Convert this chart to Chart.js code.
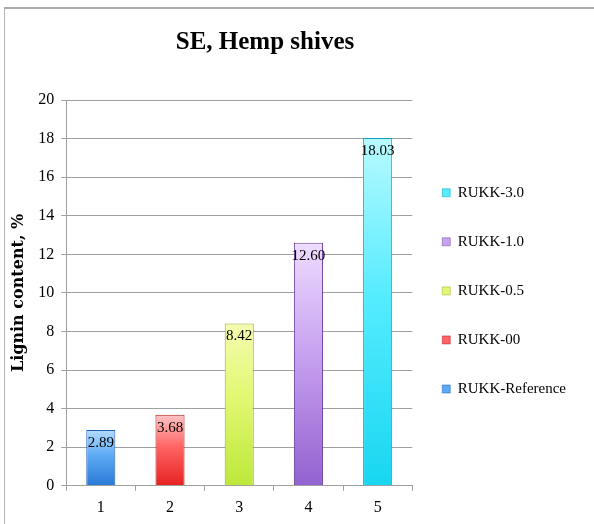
<!DOCTYPE html>
<html>
<head>
<meta charset="utf-8">
<script src="https://cdn.jsdelivr.net/npm/chart.js@4"></script>
<style>
  html, body { margin: 0; background: #fff; overflow: hidden; }
  #box {
    position: absolute;
    left: 4px;
    top: 7px;
    border-top: 2px solid #ababab;
    border-left: 1px solid #b4b4b4;
  }
</style>
</head>
<body>
<div id="box"><canvas id="ligninChart" width="589" height="515"></canvas></div>
<script>
const categories = ['1', '2', '3', '4', '5'];
const seriesNames = ['RUKK-Reference', 'RUKK-00', 'RUKK-0.5', 'RUKK-1.0', 'RUKK-3.0'];
const ligninValues = [2.89, 3.68, 8.42, 12.6, 18.03];
const yMin = 0;
const yMax = 20;
const yStep = 2;

// bar shading: top, middle, bottom, edge
const barTop = ['#b4dcff', '#ffc4c4', '#f6fbb0', '#eedcff', '#b8faff'];
const barMid = ['#5eaaf6', '#ff6464', '#e2f872', '#c8a2f0', '#56ecff'];
const barBottom = ['#2a7ad6', '#e62222', '#bde83a', '#9262d0', '#18d6f0'];
const barEdge = ['#1d5fb0', '#b01a1a', '#8fae22', '#6a40a0', '#0e9fc0'];

const font = '"Liberation Serif", serif';

function barGradient(ctx, i) {
  const chart = ctx.chart;
  const y = chart.scales ? chart.scales.y : null;
  if (!chart.chartArea || !y) return barMid[i];
  const top = y.getPixelForValue(ligninValues[i]);
  const bottom = y.getPixelForValue(0);
  if (!isFinite(top) || !isFinite(bottom)) return barMid[i];
  const g = chart.ctx.createLinearGradient(0, top, 0, bottom);
  g.addColorStop(0, barTop[i]);
  g.addColorStop(0.45, barMid[i]);
  g.addColorStop(1, barBottom[i]);
  return g;
}

// value printed inside the top of each bar
const valueLabels = {
  id: 'valueLabels',
  afterDatasetsDraw(chart) {
    const c = chart.ctx;
    c.save();
    c.font = '15px ' + font;
    c.fillStyle = '#000';
    c.textAlign = 'center';
    c.textBaseline = 'middle';
    chart.data.datasets.forEach((ds, i) => {
      chart.getDatasetMeta(i).data.forEach((bar, j) => {
        if (ds.data[j] == null) return;
        c.fillText(ds.data[j].toFixed(2), bar.x, bar.y + 13);
      });
    });
    c.restore();
  },
};

// title sits left of the canvas centre, as in the original
const chartTitle = {
  id: 'chartTitle',
  afterDraw(chart) {
    const c = chart.ctx;
    c.save();
    c.font = 'bold 25px ' + font;
    c.fillStyle = '#000';
    c.textAlign = 'center';
    c.textBaseline = 'alphabetic';
    c.fillText('SE, Hemp shives', 260, 40);
    c.restore();
  },
};

const datasets = seriesNames.map((name, i) => ({
  label: name,
  data: categories.map((c, j) => (j === i ? ligninValues[i] : null)),
  backgroundColor: (ctx) => barGradient(ctx, i),
  borderColor: barEdge[i],
  borderWidth: 1,
  barPercentage: 0.42,
  categoryPercentage: 1,
}));

new Chart(document.getElementById('ligninChart'), {
  type: 'bar',
  data: {
    labels: categories,
    datasets: datasets,
  },
  plugins: [valueLabels, chartTitle],
  options: {
    responsive: false,
    animation: false,
    grouped: false,
    // negative left padding widens the room Chart.js allows the legend;
    // the y title padding pulls the axis back into view
    layout: {
      padding: { top: 91, left: -75, right: 21, bottom: 0 },
    },
    scales: {
      x: {
        grid: {
          drawOnChartArea: false,
          tickLength: 5,
          color: '#a0a0a0',
        },
        border: { color: '#a0a0a0' },
        ticks: {
          color: '#000',
          padding: 7,
          font: { family: font, size: 16 },
        },
      },
      y: {
        min: yMin,
        max: yMax,
        grid: { color: '#a0a0a0', tickLength: 5 },
        border: { color: '#a0a0a0' },
        ticks: {
          stepSize: yStep,
          color: '#000',
          padding: 7,
          font: { family: font, size: 16 },
        },
        title: {
          display: true,
          text: 'Lignin content, %',
          color: '#000',
          padding: { top: 79, bottom: 3 },
          font: { family: '"DejaVu Serif", serif', size: 16, weight: 'bold' },
        },
      },
    },
    plugins: {
      tooltip: { enabled: false },
      legend: {
        position: 'right',
        fullSize: false,
        reverse: true,
        labels: {
          boxWidth: 8,
          boxHeight: 8,
          padding: 30,
          color: '#000',
          font: { family: font, size: 15, lineHeight: 1.27 },
          generateLabels(chart) {
            const items = Chart.defaults.plugins.legend.labels.generateLabels(chart);
            items.forEach((item) => {
              item.text = [item.text];
              item.fillStyle = barMid[item.datasetIndex];
              item.strokeStyle = barEdge[item.datasetIndex];
              item.lineWidth = 0.5;
            });
            return items;
          },
        },
      },
    },
  },
});
</script>
</body>
</html>
